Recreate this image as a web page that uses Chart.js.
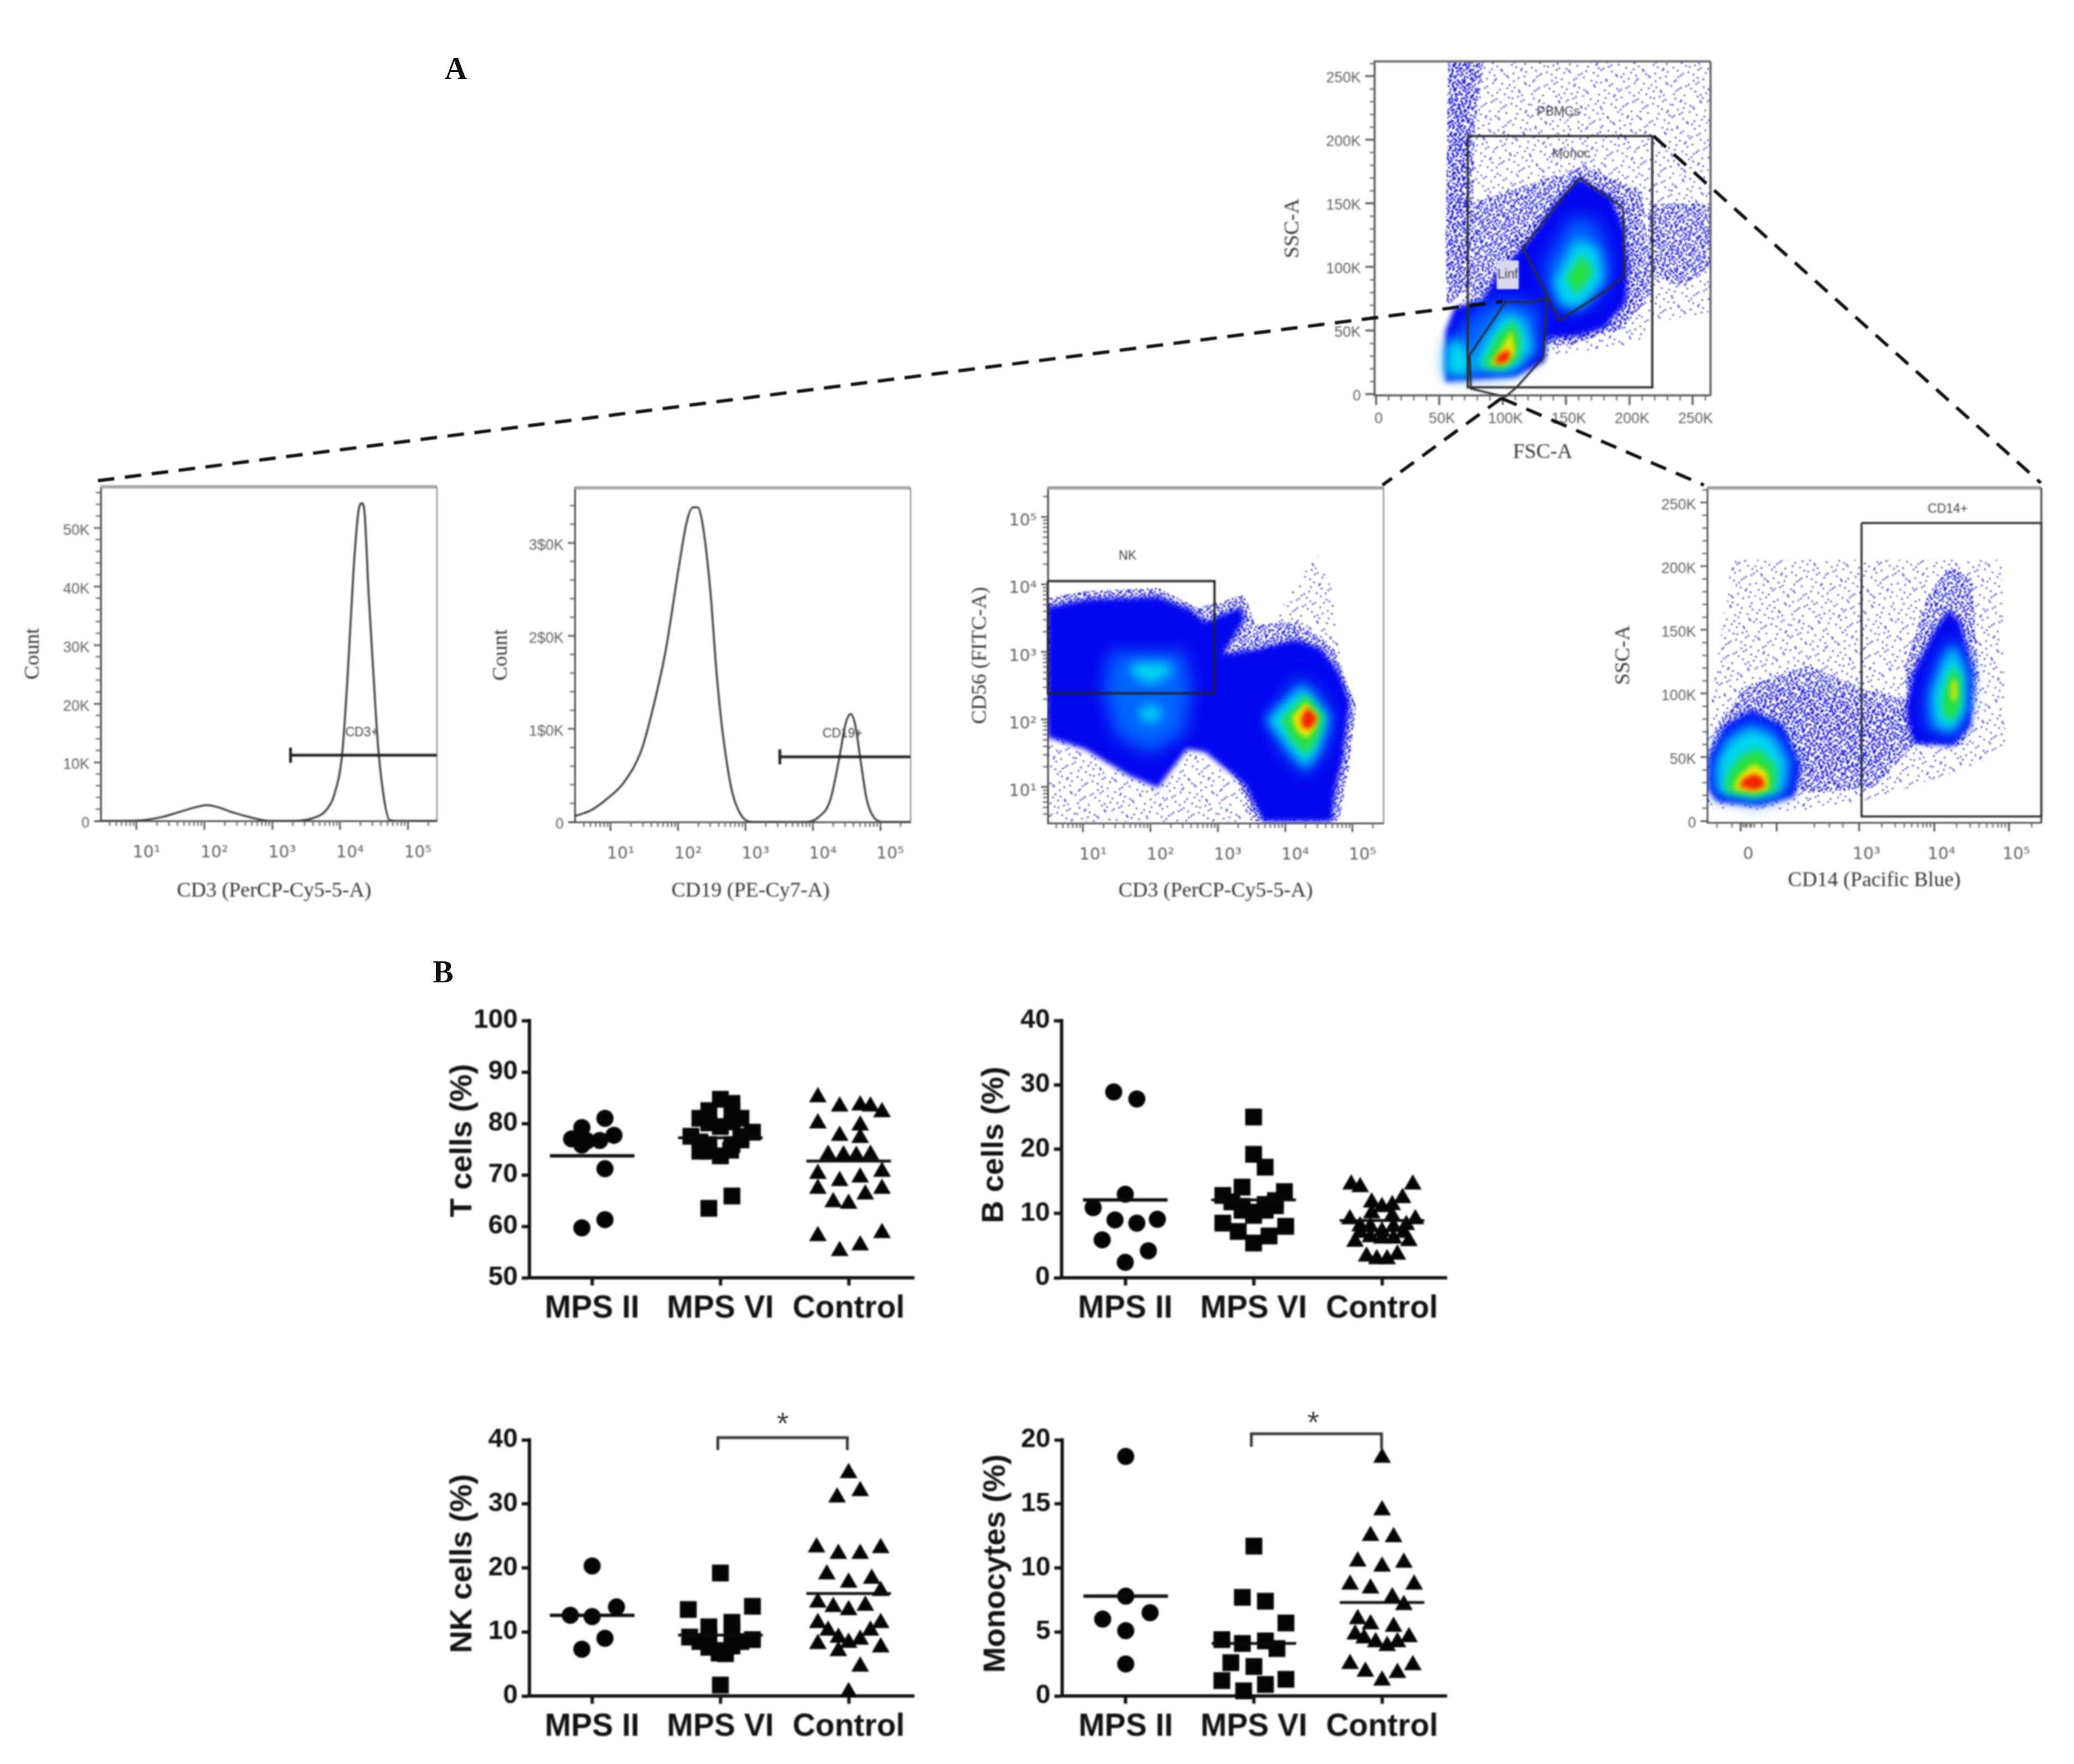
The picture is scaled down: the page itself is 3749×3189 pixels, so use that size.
<!DOCTYPE html>
<html>
<head>
<meta charset="utf-8">
<title>Flow cytometry gating and cell subset percentages</title>
<script src="https://cdn.jsdelivr.net/npm/chart.js@4"></script>
<style>
	html, body { margin: 0; background: #fff; }
	#page { position: relative; width: 3749px; height: 3189px; overflow: hidden; }
	canvas { position: absolute; filter: blur(1.5px); }
	svg { position: absolute; left: 0; top: 0; filter: blur(0.8px); }
	.letter { position: absolute; font: bold 56px "Liberation Serif", serif; color: #111; transform: translate(-50%, -50%); }
	.star { position: absolute; font: 56px "Liberation Sans", sans-serif; color: #444; filter: blur(1px); transform: translate(-50%, -50%); }
</style>
</head>
<body>
<div id="page">
	<div class="letter" style="left:824px;top:124px">A</div>
	<div class="letter" style="left:801px;top:1757px">B</div>
	<div class="star" style="left:1415px;top:2572px">*</div>
	<div class="star" style="left:2374px;top:2570px">*</div>
	<svg width="3749" height="3189">
		<g stroke="#111" stroke-width="6" stroke-dasharray="30 19" fill="none">
			<line x1="177" y1="869" x2="2716" y2="545"/>
			<line x1="2989" y1="246" x2="3689" y2="873"/>
			<line x1="2714" y1="720" x2="2499" y2="877"/>
			<line x1="2714" y1="720" x2="3080" y2="877"/>
		</g>
	</svg>
</div>
<script>
// ---- panel B: groups, ticks, means
var groupNames = ['MPS II', 'MPS VI', 'Control'];
var groupTicks = [1, 2, 3];

var tTicks = [50, 60, 70, 80, 90, 100];
var bTicks = [0, 10, 20, 30, 40];
var nkTicks = [0, 10, 20, 30, 40];
var monoTicks = [0, 5, 10, 15, 20];

var tMeans = [73.7, 77.2, 72.7];
var bMeans = [12.1, 12.1, 8.9];
var nkMeans = [12.6, 9.5, 16];
var monoMeans = [7.8, 4.1, 7.3];

// each pair is [swarm x in group units, percent]
var tMps2 = [[1.1,81],[.92,79.2],[1.17,77.7],[.84,77],[.9,77],[1.06,76.7],[.96,76.6],[.92,75.8],[1.1,71.2],[1.1,61.3],[.92,59.7]];
var tMps6 = [[2,84.7],[2.09,83.9],[1.91,82.5],[2.09,82.5],[1.84,81],[2.16,81],[1.91,80.1],[2.09,80.3],[2,79.4],[2.25,78.3],[1.77,77.5],[2.16,77.5],[1.84,74.6],[1.91,74.6],[2.08,74.8],[2,73.7],[2.09,75.9],[1.91,75.9],[2.16,76.8],[1.84,76.4],[2.09,65.9],[1.91,63.5]];
var tCtrl = [[2.76,85.6],[2.93,83.8],[3.09,84],[3.17,83.8],[3.26,82.7],[2.76,80.5],[3.09,80.1],[2.93,78.1],[3.09,77.7],[2.84,74.4],[2.96,74.3],[3.06,74.2],[3.17,74.4],[2.76,70.7],[2.93,69.3],[3.09,70],[3.26,71.1],[2.76,67.8],[3.26,67.8],[3.13,66.7],[2.88,65.2],[3,64.9],[2.76,58.6],[3.26,59.2],[3.09,56.8],[2.93,55.7]];

var bMps2 = [[.91,28.9],[1.09,27.8],[1,13],[.75,10.9],[.92,9],[1.09,8.5],[1.25,9.1],[.82,5.9],[1.18,4.2],[1,2.4]];
var bMps6 = [[2,25],[2,19.2],[2.09,17.2],[1.91,14.1],[2.24,13.4],[1.76,12.8],[2.17,12],[1.83,11.8],[2.09,11.4],[1.91,11.1],[2,10.2],[2.17,11.2],[2.09,10.5],[1.91,10.5],[2,9.7],[1.76,8.5],[2.25,8],[1.88,7.2],[2.12,6.5],[2,5.4]];
var bCtrl = [[2.76,14.9],[2.83,14.5],[3.24,14.9],[3.16,12.8],[2.92,12.1],[3,11.4],[3.08,11.7],[2.92,10.4],[3.08,10],[2.75,9.5],[3.26,9.5],[2.83,8.4],[3.19,8.6],[2.91,8.3],[3.09,8.3],[3,7.6],[2.91,6.7],[3.09,6.5],[2.79,6],[3.21,6.1],[3,6.5],[3.12,4],[2.88,3.7],[2.96,3.3],[3.04,3.3],[2.83,7.4],[3.17,7.4]];

var nkMps2 = [[1,20.3],[1.19,13.9],[.83,12.6],[1,12.4],[1.1,9],[.92,7.3]];
var nkMps6 = [[2,19.2],[2.25,14],[1.75,13.5],[2.09,11.5],[1.91,10.8],[2.09,10.2],[1.76,9.2],[2.25,8.8],[1.84,8.5],[1.91,9.2],[2.16,8.5],[1.91,7.6],[2.09,7.8],[2,7.1],[2.04,6.6],[1.99,6.7],[2,1.7]];
var nkCtrl = [[3,35.2],[3.09,32.4],[2.91,31.4],[2.75,23.6],[3.25,23.5],[3.09,22.6],[2.92,22.6],[2.83,19.4],[3.18,18.7],[3,18.1],[3.25,16.8],[2.76,15],[2.88,14.3],[3.13,14.5],[3,13.8],[2.76,11.8],[3.25,11.8],[2.84,10.6],[3.17,10.6],[2.92,9.5],[3.09,9.2],[3,8.7],[2.76,8.5],[3.25,8],[2.92,7.4],[3.09,5],[3,1]];

var monoMps2 = [[1,18.7],[1,7.8],[1.19,6.5],[.82,6],[1,5.1],[1,2.5]];
var monoMps6 = [[2,11.7],[1.91,7.7],[2.09,7.4],[2.25,5.7],[1.75,4.4],[1.91,4.1],[2.09,4.3],[2.18,3.7],[1.82,2.6],[2,2.3],[1.75,1.2],[2.25,1.3],[2.09,.9],[1.92,.4]];
var monoCtrl = [[3,18.8],[3,14.7],[2.91,12.7],[3.09,12.6],[2.81,10.7],[3.17,10.6],[3,10.3],[2.75,8.9],[3.25,8.9],[2.91,8.6],[3.08,7.9],[3.17,7.3],[2.81,6.2],[2.91,5.8],[3.09,5.6],[2.79,5],[3.21,4.8],[2.86,4.7],[2.95,4.4],[3.12,4.4],[3.04,4.1],[2.75,2.7],[3.24,2.6],[2.87,2.1],[3.12,2],[3,1.4]];

var nkBracket = [[1.98,38.4],[1.98,40.35],[2.99,40.35],[2.99,38.4]];
var monoBracket = [[1.98,19.46],[1.98,20.47],[2.996,20.47],[2.996,19.3]];

// ---- panel A: histograms, x is log10 of the signal, y is count in thousands
var cd3Curve = [[.49,0],[1,.05],[1.37,.65],[1.64,1.55],[1.86,2.3],[2.04,2.7],[2.21,2.3],[2.43,1.4],[2.7,.55],[2.96,0],[3.32,0],[3.58,.4],[3.8,1.9],[3.92,4.7],[4.03,11.3],[4.11,24.4],[4.2,43],[4.27,52.7],[4.32,54.2],[4.36,52.7],[4.42,39],[4.49,25.4],[4.56,12.8],[4.65,3.7],[4.73,.15],[4.87,0],[5.42,0]];
var cd19Curve = [[.47,.64],[.71,1.27],[.93,2.4],[1.2,4.3],[1.46,7.8],[1.64,12.6],[1.82,18.6],[2,26.9],[2.13,32.3],[2.22,33.8],[2.29,33.8],[2.37,31.7],[2.48,24.7],[2.57,16.1],[2.66,9.7],[2.8,3.3],[2.93,.8],[3.11,0],[3.86,0],[4.08,.5],[4.26,2.4],[4.4,7.2],[4.48,10.4],[4.56,11.6],[4.63,10.4],[4.71,6.5],[4.8,2.4],[4.93,.3],[5.06,0],[5.45,0]];
var cd3Gate = [[3.27,12.5],[3.27,9.9],[3.27,11.2],[5.43,11.2]];
var cd19Gate = [[3.51,7.8],[3.51,6.2],[3.51,7],[5.45,7]];
var cd3Labels = [['CD3+',4.32,15]];
var cd19Labels = [['CD19+',4.44,9.5]];
var countTicks = [0, 10, 20, 30, 40, 50];
var countLabels = ['0', '10K', '20K', '30K', '40K', '50K'];
var cd19CountTicks = [0, 10, 20, 30];
var cd19CountLabels = ['0', '1$0K', '2$0K', '3$0K'];
var decades = [1, 2, 3, 4, 5];

// ---- panel A: FSC / SSC plot, both axes in thousands
var kTicks = [0, 50, 100, 150, 200, 250];
var kLabels = ['0', '50K', '100K', '150K', '200K', '250K'];
var fscPbmc = [[72.5,203],[218,203],[218,5.5],[72.5,5.5],[72.5,203]];
var fscMonoc = [[161,170],[195,147],[196,93],[182,82],[145,58],[116,115.5],[150,158],[161,170]];
var fscLinf = [[74,31],[102.5,73],[120,72],[135,75.5],[132,29],[111,5.5],[102,-2],[75,4.5],[74,31]];
var fscLabels = [['PBMCs',144,222],['Monoc',154,189],['Linf',104,94]];
var fscSparse = [[[57,261],[264,261],[264,62],[222,58],[205,40],[135,30],[60,60]]];
var fscMedium = [
	[[57,261],[85,261],[78,210],[76,130],[75,85],[56,70],[55,120]],
	[[58,261],[80,261],[75,210],[72,130],[72,90],[57,80],[56,120]],
	[[60,240],[72,240],[70,150],[60,130]],
	[[75,150],[120,165],[165,180],[210,160],[218,80],[195,52],[150,38],[115,42],[75,70]],
	[[95,110],[125,135],[160,178],[205,150],[210,75],[190,50],[140,38],[110,60]],
	[[215,150],[264,150],[264,100],[240,85],[215,95]]
];
var fscDense = [[[55,10],[55,50],[62,68],[85,75],[95,95],[118,118],[145,155],[160,170],[185,156],[196,130],[199,100],[197,72],[180,52],[160,46],[135,44],[133,26],[110,14],[75,12]]];
var fscLight = [
	[[56,16],[58,40],[72,58],[85,70],[102,74],[128,70],[128,34],[110,18],[75,14]],
	[[132,100],[155,140],[175,135],[186,100],[175,76],[150,64],[138,80]]
];
var fscCyan = [
	[[55,14],[56,40],[65,44],[75,30],[75,15]],
	[[76,20],[85,42],[102,65],[118,58],[124,35],[108,17]],
	[[140,88],[158,122],[175,115],[180,90],[162,68],[146,70]]
];
var fscGreen = [
	[[84,22],[95,45],[108,58],[115,45],[112,27],[98,19]],
	[[150,92],[163,110],[172,96],[158,78]]
];
var fscYellow = [[[90,24],[100,38],[107,50],[110,33],[103,23]]];
var fscRed = [[[93,26],[99,33],[106,35],[105,27],[99,24]]];

// ---- panel A: CD56 / CD3 plot, both axes are log10 of the signal
var nkGate = [[.475,4.05],[2.95,4.05],[2.95,2.39],[.475,2.39],[.475,4.05]];
var nkLabels = [['NK',1.66,4.42]];
var nkSparse = [
	[[.47,.49],[.47,1.83],[1.03,1.56],[2.11,.95],[2.54,1.56],[3.4,1.04],[3.67,.49]],
	[[3.61,3.05],[4.04,3.8],[4.47,4.46],[4.69,3.93],[4.85,2.7],[4.15,3.19]]
];
var nkMedium = [[[.47,3.8],[1.03,3.9],[2.11,3.95],[2.7,3.65],[3.4,3.85],[3.55,3.4],[4.15,3.45],[4.7,3.1],[5.05,2.2],[4.95,1.3],[4.8,.5],[3.5,.5],[3.3,1.1],[2.7,1.75],[2.1,1.25],[1.05,1.75],[.47,1.95]]];
var nkDense = [[[.47,3.67],[1.03,3.78],[2.11,3.82],[2.59,3.63],[2.81,3.45],[3.34,3.67],[3.4,3.49],[3.08,2.97],[3.61,3.05],[4.15,3.19],[4.53,3.05],[4.8,2.7],[4.96,2.26],[4.85,1.39],[4.74,.95],[4.69,.49],[3.67,.49],[3.4,1.04],[2.81,1.52],[2.54,1.56],[2.11,.99],[1.68,1.17],[1.03,1.56],[.47,1.74]]];
var nkLight = [
	[[1.4,3],[2.5,3],[2.6,2.44],[2.5,1.8],[2,1.5],[1.5,1.75],[1.3,2.4]],
	[[3.75,2],[4.2,2.6],[4.5,2.4],[4.7,2],[4.55,1.5],[4.31,1.2],[4,1.5]]
];
var nkCyan = [
	[[1.72,2.84],[2.28,2.84],[2.3,2.66],[2,2.52],[1.72,2.66]],
	[[1.85,2.2],[2.15,2.2],[2.15,2],[2,1.95],[1.85,2]],
	[[3.72,2],[4.26,2.5],[4.64,2.04],[4.5,1.56],[4.31,1.27],[4.06,1.56]]
];
var nkGreen = [[[3.94,2],[4.31,2.37],[4.58,2.04],[4.47,1.69],[4.31,1.47],[4.1,1.69]]];
var nkYellow = [[[4.1,2.04],[4.31,2.26],[4.49,2.04],[4.42,1.83],[4.31,1.72],[4.17,1.83]]];
var nkRed = [[[4.24,2.04],[4.33,2.18],[4.47,2.04],[4.42,1.91],[4.33,1.85],[4.24,1.91]]];

// ---- panel A: SSC / CD14 plot, x is in biexponential decades, y in thousands
var cd14XTicks = [1.42, 1.9, 3, 4, 5];
var cd14XLabels = ['0', '', '10³', '10⁴', '10⁵'];
var cd14Gate = [[3.03,234],[5.43,234],[5.43,3.5],[3.03,3.5],[3.03,234]];
var cd14Labels = [['CD14+',4.18,245]];
var cd14Sparse = [[[.97,70],[1.3,205],[4.9,205],[4.95,60],[4.6,45],[3.6,25],[3,15],[2.2,8],[.97,10]]];
var cd14Medium = [
	[[1.07,70.5],[1.45,105],[2.32,122],[3.09,103],[3.72,94],[3.72,59],[3.19,26],[2.32,22],[2.13,24],[.99,47]],
	[[1.3,80],[1.7,105],[2.5,105],[3.1,90],[3.7,85],[3.7,62],[3.1,40],[2.4,32],[2,60]],
	[[3.9,175],[4.2,200],[4.5,190],[4.6,110],[4.4,60],[3.7,60],[3.6,120]]
];
var cd14Dense = [
	[[.99,24],[1.11,15],[1.65,12],[2.13,19],[2.22,43],[1.98,75],[1.55,87],[1.21,75],[.99,50]],
	[[3.72,61],[4.25,59],[4.49,75],[4.52,117],[4.35,156],[4.2,166],[4.01,150],[3.72,117],[3.62,87]]
];
var cd14Light = [
	[[1.05,22],[1.6,14],[2.05,21],[2.12,47],[1.9,72],[1.55,80],[1.22,68],[1.05,47]],
	[[3.9,72],[4.28,66],[4.45,87],[4.47,117],[4.28,145],[4.05,128],[3.9,98]]
];
var cd14Cyan = [
	[[1.11,22],[1.6,17],[1.98,23],[2.03,47],[1.84,66],[1.55,73],[1.26,63],[1.11,47]],
	[[4.01,75],[4.25,70],[4.42,87],[4.42,117],[4.25,138],[4.1,122],[3.96,98]]
];
var cd14Green = [
	[[1.21,23],[1.6,19],[1.89,24],[1.89,43],[1.65,57],[1.4,50],[1.24,36]],
	[[4.15,80],[4.28,80],[4.36,94],[4.35,112],[4.25,122],[4.15,108],[4.1,91]]
];
var cd14Yellow = [
	[[1.31,25],[1.6,22],[1.79,25],[1.77,38],[1.6,45],[1.4,36]],
	[[4.23,95],[4.3,95],[4.3,110],[4.23,110]]
];
var cd14Red = [[[1.4,27],[1.6,24],[1.74,27],[1.72,33],[1.6,37],[1.45,33]]];

// ---- helpers
var SANS = '"Liberation Sans", Arial, sans-serif';
var SERIF = '"Liberation Serif", serif';
var page = document.getElementById('page');

function toPoints(pairs, fx, fy) {
	return pairs.map(function(p) {
		return { x: fx ? fx(p[0]) : p[0], y: fy ? fy(p[1]) : p[1] };
	});
}
function pow10(v) { return Math.pow(10, v); }

function lineSet(pairs, color, width, fx, fy, clip) {
	return {
		data: toPoints(pairs, fx, fy), showLine: true, fill: false, pointRadius: 0,
		borderColor: color, borderWidth: width, clip: clip === undefined ? false : clip
	};
}
function curveSet(pairs, color, width, fx) {
	var set = lineSet(pairs, color, width, fx);
	set.cubicInterpolationMode = 'monotone';
	return set;
}
function markSet(pairs, style, radius, shift) {
	var set = {
		data: toPoints(pairs), pointStyle: style, pointRadius: radius, pointBorderWidth: 0,
		backgroundColor: '#050505', borderColor: '#050505', clip: false
	};
	if (shift) set.data = set.data.map(function(p) { return { x: p.x, y: p.y - shift }; });
	return set;
}

// radical inverse, gives an even but irregular dot layout for the stipple tile
function halton(i, base) {
	var f = 1, r = 0;
	while (i > 0) {
		f = f / base;
		r = r + f * (i % base);
		i = Math.floor(i / base);
	}
	return r;
}
function stipple(count, radius) {
	var tile = document.createElement('canvas');
	tile.width = 256;
	tile.height = 256;
	var c = tile.getContext('2d');
	c.fillStyle = '#0c0cd8';
	for (var i = 1; i <= count; i++) {
		c.beginPath();
		c.arc(halton(i, 2) * 256, halton(i, 3) * 256, radius, 0, Math.PI * 2);
		c.fill();
	}
	return tile;
}
var sparseTile = stipple(560, 1.5);
var mediumTile = stipple(2400, 1.8);

var levelFills = ['sparse', 'medium', '#0408ee', '#0064ff', '#00d8f0', '#25e040', '#f2e600', '#f42400'];
var levelBlur = [0, 0, 5, 15, 10, 7, 5, 4];

// density levels, gate labels, minor ticks and frame for one panel
function extras(cfg) {
	return {
		id: 'panelExtras',
		beforeDatasetsDraw: function(chart) {
			if (!cfg.levels) return;
			var ctx = chart.ctx, a = chart.chartArea, sx = chart.scales.x, sy = chart.scales.y;
			ctx.save();
			ctx.beginPath();
			ctx.rect(a.left, a.top, a.right - a.left, a.bottom - a.top);
			ctx.clip();
			cfg.levels.forEach(function(polys, i) {
				var f = levelFills[i];
				if (f === 'sparse') ctx.fillStyle = ctx.createPattern(sparseTile, 'repeat');
				else if (f === 'medium') ctx.fillStyle = ctx.createPattern(mediumTile, 'repeat');
				else ctx.fillStyle = f;
				ctx.filter = levelBlur[i] ? 'blur(' + levelBlur[i] + 'px)' : 'none';
				polys.forEach(function(poly) {
					ctx.beginPath();
					poly.forEach(function(p, k) {
						var px = sx.getPixelForValue(cfg.fx ? cfg.fx(p[0]) : p[0]);
						var py = sy.getPixelForValue(cfg.fy ? cfg.fy(p[1]) : p[1]);
						if (k === 0) ctx.moveTo(px, py); else ctx.lineTo(px, py);
					});
					ctx.closePath();
					ctx.fill();
				});
			});
			ctx.restore();
		},
		afterDraw: function(chart) {
			var ctx = chart.ctx, a = chart.chartArea, sx = chart.scales.x, sy = chart.scales.y;
			ctx.save();
			if (cfg.minorColor) {
				ctx.strokeStyle = cfg.minorColor;
				ctx.lineWidth = 2.5;
				(cfg.minorX || []).forEach(function(v) {
					var px = sx.getPixelForValue(v);
					ctx.beginPath(); ctx.moveTo(px, a.bottom); ctx.lineTo(px, a.bottom + 9); ctx.stroke();
				});
				(cfg.minorY || []).forEach(function(v) {
					var py = sy.getPixelForValue(v);
					ctx.beginPath(); ctx.moveTo(a.left, py); ctx.lineTo(a.left - 9, py); ctx.stroke();
				});
			}
			if (cfg.frame) {
				ctx.strokeStyle = cfg.frame.top;
				ctx.lineWidth = cfg.frame.topWidth;
				ctx.beginPath(); ctx.moveTo(a.left, a.top); ctx.lineTo(a.right, a.top); ctx.stroke();
				ctx.strokeStyle = cfg.frame.right;
				ctx.lineWidth = cfg.frame.rightWidth;
				ctx.beginPath(); ctx.moveTo(a.right, a.top); ctx.lineTo(a.right, a.bottom); ctx.stroke();
			}
			(cfg.labels || []).forEach(function(l) {
				var px = sx.getPixelForValue(cfg.fx ? cfg.fx(l[1]) : l[1]);
				var py = sy.getPixelForValue(cfg.fy ? cfg.fy(l[2]) : l[2]);
				ctx.font = '23px ' + SANS;
				ctx.textAlign = 'center';
				ctx.textBaseline = 'middle';
				if (cfg.labelBack && l[0] === cfg.labelBack.text) {
					ctx.fillStyle = cfg.labelBack.color;
					ctx.fillRect(px - 20, py - 26, 40, 52);
				}
				ctx.fillStyle = '#3c3c3c';
				ctx.fillText(l[0], px, py);
			});
			ctx.restore();
		}
	};
}

function fixedAxis(size) {
	return function(scale) {
		if (scale.isHorizontal()) scale.height = size;
		else scale.width = size;
	};
}

function axis(a) {
	return {
		type: a.type || 'linear', min: a.min, max: a.max, bounds: 'data',
		afterFit: fixedAxis(a.size),
		afterBuildTicks: function(scale) {
			scale.ticks = a.ticks.map(function(v) { return { value: v }; });
		},
		border: { display: true, color: a.color, width: a.lineWidth },
		grid: { display: true, drawOnChartArea: false, drawTicks: true, tickLength: a.tickLength, tickColor: a.color, tickWidth: a.lineWidth },
		ticks: {
			autoSkip: false, maxRotation: 0, minRotation: 0, padding: a.padding, color: a.textColor,
			font: a.font, labelOffset: a.labelOffset || 0,
			callback: function(value) { return a.labels[a.ticks.indexOf(value)]; }
		},
		title: {
			display: true, text: a.title, color: a.titleColor,
			font: a.titleFont, padding: { top: 0, bottom: a.titleBottom || 0 }
		}
	};
}

// box is the canvas rectangle, plot the rectangle of the chart area
function addPanel(box, plot, xAxis, yAxis, datasets, cfg) {
	var canvas = document.createElement('canvas');
	canvas.width = box.right - box.left;
	canvas.height = box.bottom - box.top;
	canvas.style.left = box.left + 'px';
	canvas.style.top = box.top + 'px';
	page.insertBefore(canvas, page.querySelector('svg'));
	xAxis.size = box.bottom - plot.bottom;
	yAxis.size = plot.left - box.left;
	return new Chart(canvas.getContext('2d'), {
		type: 'scatter',
		data: { datasets: datasets },
		options: {
			responsive: false, animation: false, devicePixelRatio: 1,
			layout: { autoPadding: false, padding: { left: 0, bottom: 0, top: plot.top - box.top, right: box.right - plot.right } },
			plugins: { legend: { display: false }, tooltip: { enabled: false } },
			scales: { x: axis(xAxis), y: axis(yAxis) }
		},
		plugins: [extras(cfg || {})]
	});
}

// ---- panel B
function dotPanel(box, plot, xRange, yTicks, title, means, mps2, mps6, ctrl, bracket) {
	var meanSets = means.map(function(m, i) {
		return lineSet([[groupTicks[i] - 0.33, m], [groupTicks[i] + 0.33, m]], '#0a0a0a', i === 0 ? 6 : 5);
	});
	// triangle tips sit above the value: the values were read at the middle of the glyph
	var span = yTicks[yTicks.length - 1] - yTicks[0];
	var triangleShift = 4.5 * span / (plot.bottom - plot.top);
	var sets = meanSets.concat([markSet(mps2, 'circle', 15.5), markSet(mps6, 'rect', 21.5), markSet(ctrl, 'triangle', 18.5, triangleShift)]);
	if (bracket) sets.unshift(lineSet(bracket, '#333', 5));
	var ink = '#111';
	addPanel(box, plot, {
		min: xRange[0], max: xRange[1], ticks: groupTicks, labels: groupNames, color: ink, lineWidth: 6,
		tickLength: 14, padding: 8, textColor: ink, font: { family: SANS, weight: 'bold', size: 57 },
		title: ''
	}, {
		min: yTicks[0], max: yTicks[yTicks.length - 1], ticks: yTicks,
		labels: yTicks.map(String), color: ink, lineWidth: 6, tickLength: 14, padding: 7, textColor: ink,
		font: { family: SANS, weight: 'bold', size: 48 },
		title: title, titleColor: ink, titleFont: { family: SANS, weight: 'bold', size: 56, lineHeight: 1 }
	}, sets);
}

// the leading spaces in the titles nudge them along the axis, chart.js only centres them
dotPanel({ left: 809, top: 1780, right: 1680, bottom: 2420 }, { left: 957, top: 1845, right: 1652, bottom: 2310 },
	[.511, 3.509], tTicks, '  T cells (%)', tMeans, tMps2, tMps6, tCtrl);
dotPanel({ left: 1770, top: 1780, right: 2640, bottom: 2420 }, { left: 1919, top: 1845, right: 2615, bottom: 2310 },
	[.504, 3.504], bTicks, ' B cells (%)', bMeans, bMps2, bMps6, bCtrl);
dotPanel({ left: 809, top: 2530, right: 1680, bottom: 3185 }, { left: 957, top: 2603, right: 1652, bottom: 3066 },
	[.511, 3.509], nkTicks, ' NK cells (%)', nkMeans, nkMps2, nkMps6, nkCtrl, nkBracket);
dotPanel({ left: 1773, top: 2530, right: 2640, bottom: 3185 }, { left: 1920, top: 2603, right: 2615, bottom: 3066 },
	[.504, 3.504], monoTicks, ' Monocytes (%)', monoMeans, monoMps2, monoMps6, monoCtrl, monoBracket);

// ---- panel A
function logMinor(from, to) {
	var out = [];
	for (var n = from; n <= to; n++) {
		for (var m = 1; m <= 9; m++) out.push(m * Math.pow(10, n));
	}
	return out;
}
function stepMinor(from, to, step) {
	var out = [];
	for (var v = from; v <= to; v += step) out.push(v);
	return out;
}
var decadeLabels = ['10¹', '10²', '10³', '10⁴', '10⁵'];
var gray = '#5e5e5e';
var flowTick = { family: SANS, size: 27 };
var logTick = { family: '"DejaVu Sans", sans-serif', size: 30 };
var flowTitle = { family: SERIF, size: 38, lineHeight: 1 };
var histFrame = { top: '#a8a8a8', topWidth: 6, right: '#777', rightWidth: 2 };

function logAxis(range, title, titleBottom) {
	return {
		type: 'logarithmic', min: pow10(range[0]), max: pow10(range[1]), ticks: decades.map(pow10), labels: decadeLabels,
		color: '#4a4a4a', lineWidth: 3, tickLength: 16, padding: 24, labelOffset: 18, textColor: gray, font: logTick,
		title: title, titleColor: '#333', titleFont: flowTitle, titleBottom: titleBottom
	};
}
function countAxis(max, ticks, labels, title) {
	return {
		min: 0, max: max, ticks: ticks, labels: labels, color: '#3c3c3c', lineWidth: 3, tickLength: 12, padding: 8,
		labelOffset: 5, textColor: gray, font: flowTick, title: title, titleColor: '#333', titleFont: flowTitle
	};
}

addPanel({ left: 41, top: 830, right: 800, bottom: 1640 }, { left: 182, top: 880, right: 790, bottom: 1484 },
	logAxis([.47, 5.43], '  CD3 (PerCP-Cy5-5-A)', 10),
	countAxis(57, countTicks, countLabels, 'Count'),
	[lineSet(cd3Gate, '#1c1c1c', 5, pow10), curveSet(cd3Curve, '#3a3a3a', 3.5, pow10)],
	{ minorColor: '#666', minorX: logMinor(0, 5).filter(function(v) { return v > 3 && v < 269000; }), minorY: stepMinor(2, 56, 2), frame: histFrame,
		labels: cd3Labels, fx: pow10 });

addPanel({ left: 887, top: 830, right: 1656, bottom: 1640 }, { left: 1039, top: 882, right: 1646, bottom: 1486 },
	logAxis([.467, 5.45], '   CD19 (PE-Cy7-A)', 10),
	countAxis(35.9, cd19CountTicks, cd19CountLabels, 'Count'),
	[lineSet(cd19Gate, '#1c1c1c', 5, pow10), curveSet(cd19Curve, '#3a3a3a', 3.5, pow10)],
	{ minorColor: '#666', minorX: logMinor(0, 5).filter(function(v) { return v > 3 && v < 280000; }), minorY: stepMinor(2, 34, 2), frame: histFrame,
		labels: cd19Labels, fx: pow10 });

addPanel({ left: 2318, top: 60, right: 3110, bottom: 845 }, { left: 2485, top: 111, right: 3092, bottom: 715 },
	{ min: -.9, max: 264, ticks: kTicks, labels: kLabels, color: '#555', lineWidth: 3.5, tickLength: 17, padding: 9, labelOffset: 5,
		textColor: gray, font: flowTick, title: 'FSC-A', titleColor: '#333', titleFont: flowTitle, titleBottom: 8 },
	{ min: -.9, max: 261.7, ticks: kTicks, labels: kLabels, color: '#555', lineWidth: 3.5, tickLength: 17, padding: 8, labelOffset: 4,
		textColor: gray, font: flowTick, title: 'SSC-A', titleColor: '#333', titleFont: flowTitle },
	[lineSet(fscLinf, '#2c2c2c', 3.5), lineSet(fscMonoc, '#2c2c2c', 3.5), lineSet(fscPbmc, '#2c2c2c', 4)],
	{ levels: [fscSparse, fscMedium, fscDense, fscLight, fscCyan, fscGreen, fscYellow, fscRed],
		minorColor: '#666', minorX: stepMinor(10, 260, 10), minorY: stepMinor(10, 260, 10),
		frame: { top: '#666', topWidth: 4, right: '#666', rightWidth: 4 },
		labels: fscLabels, labelBack: { text: 'Linf', color: '#d9d9ef' } });

addPanel({ left: 1753, top: 830, right: 2511, bottom: 1640 }, { left: 1894, top: 882, right: 2501, bottom: 1488 },
	logAxis([.475, 5.46], 'CD3 (PerCP-Cy5-5-A)', 10),
	{ type: 'logarithmic', min: pow10(.467), max: pow10(5.43), ticks: decades.map(pow10), labels: decadeLabels, color: '#3c3c3c', lineWidth: 3,
		tickLength: 12, padding: 8, labelOffset: 8, textColor: gray, font: logTick, title: 'CD56 (FITC-A)', titleColor: '#333', titleFont: flowTitle },
	[lineSet(nkGate, '#222', 4, pow10, pow10)],
	{ levels: [nkSparse, nkMedium, nkDense, nkLight, nkCyan, nkGreen, nkYellow, nkRed], fx: pow10, fy: pow10,
		minorColor: '#666', minorX: logMinor(0, 5).filter(function(v) { return v > 3 && v < 280000; }),
		minorY: logMinor(0, 5).filter(function(v) { return v > 3 && v < 260000; }),
		frame: { top: '#a0a0a0', topWidth: 6, right: '#777', rightWidth: 2 }, labels: nkLabels });

addPanel({ left: 2916, top: 830, right: 3700, bottom: 1640 }, { left: 3086, top: 882, right: 3690, bottom: 1487 },
	{ min: .97, max: 5.43, ticks: cd14XTicks, labels: cd14XLabels, color: '#4a4a4a', lineWidth: 3, tickLength: 16, padding: 24, labelOffset: 13,
		textColor: gray, font: logTick, title: 'CD14 (Pacific Blue)', titleColor: '#333', titleFont: flowTitle, titleBottom: 29 },
	{ min: -1.3, max: 261.6, ticks: kTicks, labels: kLabels, color: '#4a4a4a', lineWidth: 3, tickLength: 12, padding: 8, labelOffset: 5,
		textColor: gray, font: flowTick, title: 'SSC-A', titleColor: '#333', titleFont: flowTitle },
	[lineSet(cd14Gate, '#222', 3.5)],
	{ levels: [cd14Sparse, cd14Medium, cd14Dense, cd14Light, cd14Cyan, cd14Green, cd14Yellow, cd14Red],
		minorColor: '#666', minorX: [1.1, 1.3, 1.45, 1.48, 1.5, 1.54, 1.56, 1.6, 1.7, 2.4, 2.6, 2.78, 3.3, 3.48, 3.6, 3.7, 3.78, 3.85, 3.9, 3.95, 4.3, 4.48, 4.6, 4.7, 4.78, 4.85, 4.9, 4.95, 5.3],
		minorY: stepMinor(10, 260, 10), frame: { top: '#a0a0a0', topWidth: 6, right: '#333', rightWidth: 3 }, labels: cd14Labels });
</script>
</body>
</html>
